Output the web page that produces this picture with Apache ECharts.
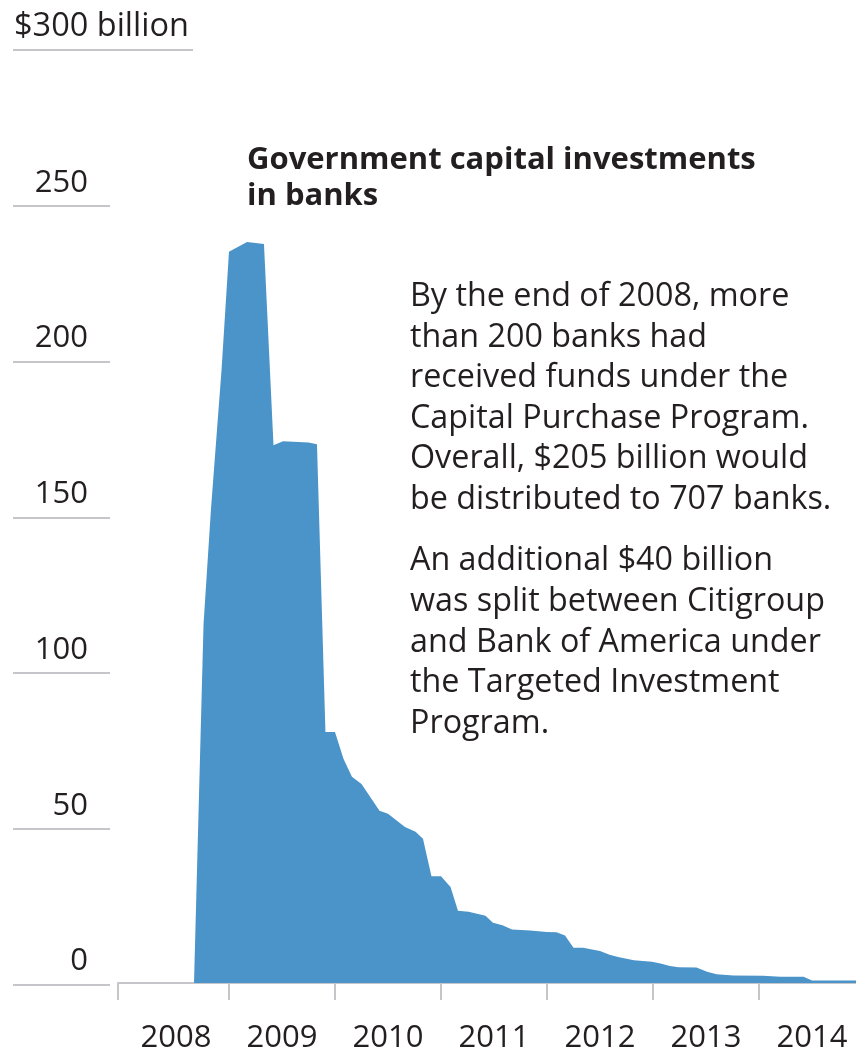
<!DOCTYPE html>
<html>
<head>
<meta charset="utf-8">
<script src="https://cdn.jsdelivr.net/npm/echarts@6/dist/echarts.min.js"></script>
<style>
  html, body { margin: 0; padding: 0; background: #fff; }
  #chart { width: 856px; height: 1055px; }
</style>
</head>
<body>
<div id="chart"></div>
<script>
'use strict'

// time as decimal years, amounts in billions of dollars
const dates = [
    2008.67, 2008.76, 2008.83, 2008.93, 2009.00, 2009.17, 2009.33, 2009.42, 2009.51, 2009.75,
    2009.83, 2009.91, 2010.00, 2010.08, 2010.16, 2010.25, 2010.42, 2010.50, 2010.66, 2010.76,
    2010.83, 2010.91, 2011.00, 2011.09, 2011.16, 2011.26, 2011.42, 2011.49, 2011.58, 2011.67,
    2011.84, 2012.00, 2012.09, 2012.17, 2012.25, 2012.34, 2012.50, 2012.59, 2012.67, 2012.82,
    2012.99, 2013.07, 2013.16, 2013.24, 2013.41, 2013.51, 2013.60, 2013.76, 2014.04, 2014.20,
    2014.42, 2014.50, 2014.92
]
const amounts = [
    0, 115.4, 152.3, 197.3, 235.1, 238.3, 237.6, 172.9, 174.2, 173.8,
    173.2, 80.7, 80.7, 72.1, 66.3, 64.0, 55.4, 54.4, 50.2, 48.6,
    46.4, 34.3, 34.3, 30.9, 23.2, 22.9, 21.6, 19.4, 18.6, 17.2,
    16.9, 16.4, 16.3, 15.3, 11.3, 11.3, 10.3, 9.1, 8.4, 7.3,
    6.8, 6.3, 5.5, 5.1, 5.0, 3.6, 2.8, 2.4, 2.3, 2.0,
    2.0, 0.8, 0.8
]
const years = [2008, 2009, 2010, 2011, 2012, 2013, 2014]

const title = 'Government capital investments\nin banks'
const note1 = 'By the end of 2008, more\nthan 200 banks had\nreceived funds under the\nCapital Purchase Program.\nOverall, $205 billion would\nbe distributed to 707 banks.'
const note2 = 'An additional $40 billion\nwas split between Citigroup\nand Bank of America under\nthe Targeted Investment\nProgram.'

const FONT = '"Open Sans", "Noto Sans", sans-serif'
const TEXT = '#231f20'
const GRAY = '#c6c6ca'
const BLUE = '#4b94c9'

const xMin = 2007.953
const xMax = 2014.915
const gridTop = 50
const gridHeight = 934.5

let option = {
    animation: false,
    grid: [
        { left: 13, width: 97, top: gridTop, height: gridHeight },
        { left: 13, width: 180, top: gridTop, height: gridHeight },
        { left: 118, right: 0, top: gridTop, height: gridHeight }
    ],
    xAxis: [
        { gridIndex: 0, type: 'value', show: false, min: 0, max: 1 },
        { gridIndex: 1, type: 'value', show: false, min: 0, max: 1 },
        {
            gridIndex: 2,
            type: 'value',
            min: xMin,
            max: xMax,
            offset: 2,
            splitLine: { show: false },
            axisLine: { show: true, lineStyle: { color: GRAY, width: 2 } },
            axisTick: {
                show: true,
                length: 17,
                lineStyle: { color: GRAY, width: 2 },
                customValues: [xMin].concat(years.slice(1))
            },
            axisLabel: {
                customValues: years.map(y => y + 0.5),
                formatter: v => String(Math.floor(v)),
                fontFamily: FONT,
                fontSize: 31,
                lineHeight: 34,
                color: TEXT,
                margin: 36
            }
        }
    ],
    yAxis: [
        {
            gridIndex: 0,
            type: 'value',
            position: 'right',
            min: 0,
            max: 300,
            interval: 50,
            axisLine: { show: false },
            axisTick: { show: false },
            splitLine: { show: true, showMaxLine: false, lineStyle: { color: GRAY, width: 2 } },
            axisLabel: {
                inside: true,
                margin: 22,
                align: 'right',
                verticalAlign: 'bottom',
                padding: [0, 0, 6, 0],
                fontFamily: FONT,
                fontSize: 31,
                lineHeight: 34,
                color: TEXT,
                formatter: v => v === 300 ? '' : String(v)
            }
        },
        {
            gridIndex: 1,
            type: 'value',
            position: 'left',
            min: 0,
            max: 300,
            interval: 300,
            axisLine: { show: false },
            axisTick: { show: false },
            splitLine: { show: true, showMinLine: false, lineStyle: { color: GRAY, width: 2 } },
            axisLabel: {
                inside: true,
                margin: 1,
                align: 'left',
                verticalAlign: 'bottom',
                padding: [0, 0, 6, 0],
                fontFamily: FONT,
                fontSize: 32.5,
                lineHeight: 34,
                color: TEXT,
                formatter: v => v === 300 ? '$300 billion' : ''
            }
        },
        { gridIndex: 2, type: 'value', show: false, min: 0, max: 300 }
    ],
    graphic: [
        {
            type: 'text',
            left: 247,
            top: 142,
            style: { text: title, font: 'bold 31px ' + FONT, lineHeight: 36, fill: TEXT }
        },
        {
            type: 'text',
            left: 410,
            top: 277,
            style: { text: note1, font: '32.3px ' + FONT, lineHeight: 40.5, fill: TEXT }
        },
        {
            type: 'text',
            left: 410,
            top: 541,
            style: { text: note2, font: '32.3px ' + FONT, lineHeight: 40.6, fill: TEXT }
        }
    ],
    series: [{
        type: 'line',
        xAxisIndex: 2,
        yAxisIndex: 2,
        data: dates.map((d, i) => [d, amounts[i]]),
        showSymbol: false,
        symbol: 'none',
        lineStyle: { width: 0 },
        areaStyle: { color: BLUE, opacity: 1 },
        color: BLUE,
        z: 3
    }]
}

let myChart = echarts.init(document.getElementById('chart'))
myChart.setOption(option)
</script>
</body>
</html>
